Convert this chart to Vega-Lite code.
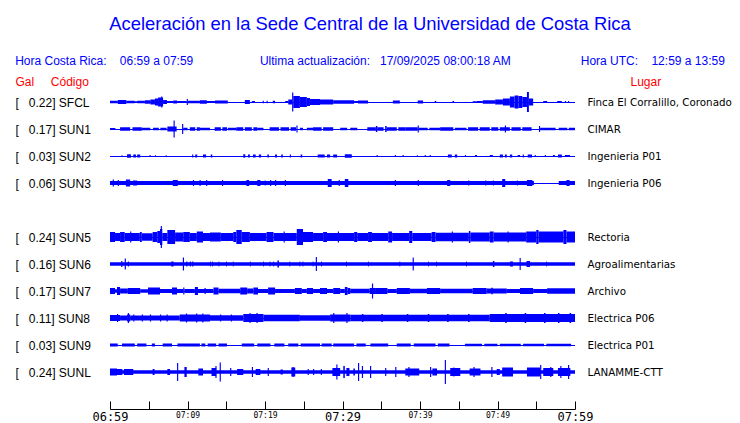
{
"$schema":"https://vega.github.io/schema/vega-lite/v6.json",
"autosize":{"type":"none"},
"width":465,"height":334,
"padding":{"left":110,"top":75,"right":165,"bottom":14},
"background":"white",
"config":{"view":{"stroke":null},
 "axisX":{"values":[0,5,10,15,20,25,30,35,40,45,50,55,60],"grid":false,"title":null,"domain":true,"domainColor":"#000000","domainWidth":1,"ticks":true,"tickSize":-8,"tickColor":"#000000","tickWidth":1,"labelPadding":10.5,"labelBaseline":"top","labelFlush":false,"labelOverlap":false,"labelColor":"#000000","labelFont":"DejaVu Sans Mono","labelFontSize":8}},
"title":{"text":"\u00a0\u00a0\u00a0\u00a0Aceleración en la Sede Central de la Universidad de Costa Rica","subtitle":"Hora Costa Rica:\u00a0\u00a0\u00a0\u00a006:59 a 07:59\u00a0\u00a0\u00a0\u00a0\u00a0\u00a0\u00a0\u00a0\u00a0\u00a0\u00a0\u00a0\u00a0\u00a0\u00a0\u00a0\u00a0\u00a0\u00a0\u00a0Ultima actualización:\u00a0\u00a0\u00a017/09/2025 08:00:18 AM\u00a0\u00a0\u00a0\u00a0\u00a0\u00a0\u00a0\u00a0\u00a0\u00a0\u00a0\u00a0\u00a0\u00a0\u00a0\u00a0\u00a0\u00a0\u00a0\u00a0\u00a0Hora UTC:\u00a0\u00a0\u00a0\u00a012:59 a 13:59","anchor":"middle","frame":"group","dx":27.5,"offset":8,"subtitlePadding":23,"font":"Liberation Sans","fontSize":18.4,"fontWeight":"normal","color":"#0000ff","subtitleFont":"Liberation Sans","subtitleFontSize":12,"subtitleColor":"#0000ff"},
"datasets":{
"estaciones":[{"s":"SFCL","gal":0.22,"lugar":"Finca El Corralillo, Coronado"},{"s":"SUN1","gal":0.17,"lugar":"CIMAR"},{"s":"SUN2","gal":0.03,"lugar":"Ingenieria P01"},{"s":"SUN3","gal":0.06,"lugar":"Ingenieria P06"},{"s":"SUN5","gal":0.24,"lugar":"Rectoria"},{"s":"SUN6","gal":0.16,"lugar":"Agroalimentarias"},{"s":"SUN7","gal":0.17,"lugar":"Archivo"},{"s":"SUN8","gal":0.11,"lugar":"Electrica P06"},{"s":"SUN9","gal":0.03,"lugar":"Electrica P01"},{"s":"SUNL","gal":0.24,"lugar":"LANAMME-CTT"}],
"trazas":[
{"s":"SFCL","t0":0,"t1":1,"a":2.5},{"s":"SFCL","t0":1,"t1":2.1,"a":4},{"s":"SFCL","t0":2.1,"t1":3.2,"a":2.5},{"s":"SFCL","t0":3.2,"t1":3.5,"a":1.5},{"s":"SFCL","t0":3.5,"t1":4.5,"a":2.5},{"s":"SFCL","t0":4.5,"t1":5.2,"a":3.5},{"s":"SFCL","t0":5.2,"t1":5.8,"a":5},{"s":"SFCL","t0":5.8,"t1":6.2,"a":7},{"s":"SFCL","t0":6.2,"t1":6.85,"a":9},{"s":"SFCL","t0":6.6,"t1":6.75,"a":11},{"s":"SFCL","t0":6.85,"t1":7.35,"a":4},{"s":"SFCL","t0":7.35,"t1":8.15,"a":2},{"s":"SFCL","t0":8.15,"t1":8.65,"a":3},{"s":"SFCL","t0":8.65,"t1":9.9,"a":2},{"s":"SFCL","t0":9.9,"t1":10.05,"a":6},{"s":"SFCL","t0":10.05,"t1":11.6,"a":2.5},{"s":"SFCL","t0":11.6,"t1":12.5,"a":3.5},{"s":"SFCL","t0":12.5,"t1":13.55,"a":2},{"s":"SFCL","t0":13.55,"t1":15.2,"a":3},{"s":"SFCL","t0":17.4,"t1":18.05,"a":4},{"s":"SFCL","t0":18.3,"t1":18.7,"a":2},{"s":"SFCL","t0":19.7,"t1":19.85,"a":2.5},{"s":"SFCL","t0":20.2,"t1":20.35,"a":2.5},{"s":"SFCL","t0":21,"t1":21.3,"a":2.5},{"s":"SFCL","t0":22.6,"t1":23,"a":2},{"s":"SFCL","t0":23,"t1":23.5,"a":5},{"s":"SFCL","t0":23.5,"t1":23.65,"a":19},{"s":"SFCL","t0":23.65,"t1":24.5,"a":12},{"s":"SFCL","t0":24.5,"t1":25.4,"a":10},{"s":"SFCL","t0":25.4,"t1":25.8,"a":8},{"s":"SFCL","t0":25.8,"t1":27.1,"a":6},{"s":"SFCL","t0":27.1,"t1":28.8,"a":5},{"s":"SFCL","t0":28.8,"t1":31.5,"a":3.5},{"s":"SFCL","t0":31.5,"t1":32,"a":2},{"s":"SFCL","t0":32,"t1":33.3,"a":3},{"s":"SFCL","t0":36.5,"t1":37.4,"a":3},{"s":"SFCL","t0":39.7,"t1":40.4,"a":3},{"s":"SFCL","t0":41.9,"t1":42.1,"a":2},{"s":"SFCL","t0":44.2,"t1":44.4,"a":2},{"s":"SFCL","t0":46.8,"t1":47.35,"a":1.5},{"s":"SFCL","t0":47.35,"t1":48.1,"a":2},{"s":"SFCL","t0":48.1,"t1":49.7,"a":3.5},{"s":"SFCL","t0":49.7,"t1":50.7,"a":5},{"s":"SFCL","t0":50.7,"t1":51.6,"a":7},{"s":"SFCL","t0":51.6,"t1":52.2,"a":11},{"s":"SFCL","t0":52.2,"t1":52.7,"a":13},{"s":"SFCL","t0":52.7,"t1":53.2,"a":12},{"s":"SFCL","t0":53.2,"t1":53.8,"a":10},{"s":"SFCL","t0":53.8,"t1":54.05,"a":20},{"s":"SFCL","t0":54.05,"t1":54.6,"a":7},{"s":"SFCL","t0":55.9,"t1":56.4,"a":2},{"s":"SFCL","t0":57.7,"t1":58.3,"a":2},{"s":"SFCL","t0":58.7,"t1":58.85,"a":2},{"s":"SFCL","t0":59.1,"t1":59.25,"a":2},
{"s":"SUN1","t0":0,"t1":0.7,"a":2},{"s":"SUN1","t0":1.3,"t1":2.6,"a":3.5},{"s":"SUN1","t0":2.9,"t1":4.1,"a":3.5},{"s":"SUN1","t0":4.1,"t1":5.2,"a":2.5},{"s":"SUN1","t0":5.55,"t1":6.3,"a":2.5},{"s":"SUN1","t0":6.5,"t1":7.3,"a":2.5},{"s":"SUN1","t0":7.4,"t1":8.6,"a":5},{"s":"SUN1","t0":8.2,"t1":8.35,"a":17},{"s":"SUN1","t0":9.3,"t1":9.45,"a":10},{"s":"SUN1","t0":9.45,"t1":10,"a":2.5},{"s":"SUN1","t0":10.3,"t1":11,"a":3.5},{"s":"SUN1","t0":11.2,"t1":11.6,"a":3.5},{"s":"SUN1","t0":11.6,"t1":12.9,"a":2.5},{"s":"SUN1","t0":13.5,"t1":14.3,"a":3.5},{"s":"SUN1","t0":14.5,"t1":15.1,"a":3.5},{"s":"SUN1","t0":15.2,"t1":16.3,"a":2.5},{"s":"SUN1","t0":16.3,"t1":17.2,"a":3.5},{"s":"SUN1","t0":17.4,"t1":18.3,"a":3.5},{"s":"SUN1","t0":18.5,"t1":19,"a":3.5},{"s":"SUN1","t0":19,"t1":19.8,"a":2.5},{"s":"SUN1","t0":20.6,"t1":21.8,"a":3.5},{"s":"SUN1","t0":22,"t1":23.1,"a":3.5},{"s":"SUN1","t0":23.3,"t1":24,"a":3.5},{"s":"SUN1","t0":24.05,"t1":24.2,"a":7},{"s":"SUN1","t0":24.5,"t1":24.9,"a":2.5},{"s":"SUN1","t0":25.4,"t1":26.2,"a":2.5},{"s":"SUN1","t0":26.2,"t1":27.3,"a":3.5},{"s":"SUN1","t0":27.5,"t1":28.8,"a":3.5},{"s":"SUN1","t0":29.7,"t1":30.6,"a":2.5},{"s":"SUN1","t0":31,"t1":31.9,"a":2.5},{"s":"SUN1","t0":33.2,"t1":34.3,"a":3.5},{"s":"SUN1","t0":34.3,"t1":34.5,"a":6},{"s":"SUN1","t0":34.5,"t1":35.3,"a":3.5},{"s":"SUN1","t0":35.5,"t1":35.7,"a":6},{"s":"SUN1","t0":35.7,"t1":37,"a":3.5},{"s":"SUN1","t0":37.2,"t1":38.1,"a":3.5},{"s":"SUN1","t0":38.1,"t1":39.7,"a":3.5},{"s":"SUN1","t0":39.7,"t1":39.85,"a":7},{"s":"SUN1","t0":39.85,"t1":41,"a":2.5},{"s":"SUN1","t0":41.2,"t1":42.6,"a":2.5},{"s":"SUN1","t0":42.6,"t1":44.3,"a":3.5},{"s":"SUN1","t0":44.5,"t1":46,"a":2.5},{"s":"SUN1","t0":46.2,"t1":47.5,"a":3.5},{"s":"SUN1","t0":47.7,"t1":49,"a":3.5},{"s":"SUN1","t0":49.2,"t1":50.1,"a":3.5},{"s":"SUN1","t0":50.3,"t1":51.6,"a":3.5},{"s":"SUN1","t0":50.95,"t1":51.1,"a":7},{"s":"SUN1","t0":51.8,"t1":53,"a":3.5},{"s":"SUN1","t0":53.2,"t1":54.4,"a":3.5},{"s":"SUN1","t0":55.35,"t1":55.5,"a":6},{"s":"SUN1","t0":55.5,"t1":57.5,"a":2.5},{"s":"SUN1","t0":57.9,"t1":59,"a":2.5},{"s":"SUN1","t0":59.2,"t1":60,"a":2.5},
{"s":"SUN2","t0":1.5,"t1":1.6,"a":2},{"s":"SUN2","t0":2.2,"t1":2.7,"a":3.5},{"s":"SUN2","t0":3,"t1":3.35,"a":3},{"s":"SUN2","t0":3.5,"t1":3.9,"a":3},{"s":"SUN2","t0":5.1,"t1":5.25,"a":2},{"s":"SUN2","t0":5.8,"t1":5.9,"a":2},{"s":"SUN2","t0":7.2,"t1":7.3,"a":2},{"s":"SUN2","t0":10.6,"t1":10.75,"a":3},{"s":"SUN2","t0":11,"t1":11.25,"a":3},{"s":"SUN2","t0":12,"t1":12.4,"a":3},{"s":"SUN2","t0":13,"t1":13.2,"a":3},{"s":"SUN2","t0":17.2,"t1":17.45,"a":3.5},{"s":"SUN2","t0":17.8,"t1":18.05,"a":3},{"s":"SUN2","t0":18.45,"t1":18.8,"a":3},{"s":"SUN2","t0":19.2,"t1":19.5,"a":3},{"s":"SUN2","t0":20.3,"t1":20.5,"a":3},{"s":"SUN2","t0":21.3,"t1":21.55,"a":3},{"s":"SUN2","t0":22.1,"t1":22.3,"a":3},{"s":"SUN2","t0":23.2,"t1":23.35,"a":3},{"s":"SUN2","t0":24.6,"t1":24.8,"a":3},{"s":"SUN2","t0":26.8,"t1":27.7,"a":3},{"s":"SUN2","t0":28,"t1":28.4,"a":3},{"s":"SUN2","t0":28.8,"t1":29.3,"a":3},{"s":"SUN2","t0":30.3,"t1":31.2,"a":3.5},{"s":"SUN2","t0":34.4,"t1":34.55,"a":2},{"s":"SUN2","t0":36.75,"t1":36.9,"a":2},{"s":"SUN2","t0":37.75,"t1":37.9,"a":2},{"s":"SUN2","t0":39.6,"t1":39.7,"a":2},{"s":"SUN2","t0":40.6,"t1":40.75,"a":2},{"s":"SUN2","t0":41.25,"t1":41.4,"a":2},{"s":"SUN2","t0":43.6,"t1":44.1,"a":3},{"s":"SUN2","t0":44.5,"t1":44.8,"a":3},{"s":"SUN2","t0":45.8,"t1":45.95,"a":2},{"s":"SUN2","t0":47.1,"t1":47.35,"a":2},{"s":"SUN2","t0":49,"t1":49.4,"a":2},{"s":"SUN2","t0":50.3,"t1":50.7,"a":3},{"s":"SUN2","t0":50.95,"t1":51.2,"a":3},{"s":"SUN2","t0":51.6,"t1":51.9,"a":3},{"s":"SUN2","t0":52.6,"t1":52.9,"a":2},{"s":"SUN2","t0":53.25,"t1":53.4,"a":3},{"s":"SUN2","t0":53.9,"t1":54.45,"a":3},{"s":"SUN2","t0":54.8,"t1":54.95,"a":2},{"s":"SUN2","t0":56.1,"t1":56.25,"a":2},{"s":"SUN2","t0":57.15,"t1":57.4,"a":2},{"s":"SUN2","t0":57.8,"t1":58.3,"a":3},{"s":"SUN2","t0":58.7,"t1":59.35,"a":2},
{"s":"SUN3","t0":0,"t1":54.7,"a":4},{"s":"SUN3","t0":57.9,"t1":60,"a":4},{"s":"SUN3","t0":0.35,"t1":0.5,"a":7},{"s":"SUN3","t0":1,"t1":1.15,"a":6},{"s":"SUN3","t0":2.05,"t1":2.6,"a":7},{"s":"SUN3","t0":2.95,"t1":3.5,"a":5},{"s":"SUN3","t0":8.1,"t1":8.75,"a":6},{"s":"SUN3","t0":10.7,"t1":10.85,"a":6},{"s":"SUN3","t0":11.55,"t1":11.7,"a":6},{"s":"SUN3","t0":12.4,"t1":12.55,"a":6},{"s":"SUN3","t0":14.45,"t1":14.6,"a":6},{"s":"SUN3","t0":17.6,"t1":17.95,"a":6},{"s":"SUN3","t0":19,"t1":19.4,"a":6},{"s":"SUN3","t0":19.95,"t1":20.1,"a":5},{"s":"SUN3","t0":20.65,"t1":20.8,"a":6},{"s":"SUN3","t0":21.3,"t1":21.45,"a":6},{"s":"SUN3","t0":22.55,"t1":22.7,"a":6},{"s":"SUN3","t0":28.1,"t1":28.6,"a":8},{"s":"SUN3","t0":29.5,"t1":29.65,"a":6},{"s":"SUN3","t0":30.3,"t1":30.75,"a":8},{"s":"SUN3","t0":36.75,"t1":36.9,"a":6},{"s":"SUN3","t0":39.7,"t1":39.85,"a":6},{"s":"SUN3","t0":43.5,"t1":43.9,"a":6},{"s":"SUN3","t0":46.2,"t1":46.35,"a":5},{"s":"SUN3","t0":48.4,"t1":48.55,"a":5},{"s":"SUN3","t0":49.4,"t1":49.55,"a":5},{"s":"SUN3","t0":50.6,"t1":51,"a":8},{"s":"SUN3","t0":52.5,"t1":52.65,"a":5},{"s":"SUN3","t0":53.8,"t1":54.5,"a":6},{"s":"SUN3","t0":58.9,"t1":59.3,"a":6},
{"s":"SUN5","t0":0,"t1":0.65,"a":10},{"s":"SUN5","t0":0.65,"t1":1.3,"a":8},{"s":"SUN5","t0":1.3,"t1":1.9,"a":10},{"s":"SUN5","t0":1.9,"t1":3.85,"a":8},{"s":"SUN5","t0":2.6,"t1":2.75,"a":11},{"s":"SUN5","t0":3.85,"t1":4.1,"a":10},{"s":"SUN5","t0":4.1,"t1":5.5,"a":7.5},{"s":"SUN5","t0":5.5,"t1":6.1,"a":10},{"s":"SUN5","t0":6.1,"t1":6.45,"a":12},{"s":"SUN5","t0":6.45,"t1":6.75,"a":16},{"s":"SUN5","t0":6.55,"t1":6.7,"a":22},{"s":"SUN5","t0":6.75,"t1":7.4,"a":8},{"s":"SUN5","t0":7.4,"t1":8.4,"a":14},{"s":"SUN5","t0":8.4,"t1":9.45,"a":9},{"s":"SUN5","t0":9.45,"t1":10.3,"a":10},{"s":"SUN5","t0":10.3,"t1":11.2,"a":8},{"s":"SUN5","t0":11.2,"t1":12,"a":11},{"s":"SUN5","t0":12,"t1":12.9,"a":8},{"s":"SUN5","t0":12.9,"t1":14.3,"a":9},{"s":"SUN5","t0":14.3,"t1":15.9,"a":8},{"s":"SUN5","t0":15.9,"t1":16.3,"a":10},{"s":"SUN5","t0":16.3,"t1":17,"a":14},{"s":"SUN5","t0":17,"t1":18.05,"a":10},{"s":"SUN5","t0":18.05,"t1":20.2,"a":8},{"s":"SUN5","t0":20.2,"t1":21.1,"a":10},{"s":"SUN5","t0":21.1,"t1":24.1,"a":8},{"s":"SUN5","t0":22.4,"t1":22.55,"a":11},{"s":"SUN5","t0":24.1,"t1":24.9,"a":16},{"s":"SUN5","t0":24.9,"t1":26.2,"a":10},{"s":"SUN5","t0":26.2,"t1":27.5,"a":8},{"s":"SUN5","t0":27.5,"t1":28,"a":10},{"s":"SUN5","t0":28,"t1":31.5,"a":8},{"s":"SUN5","t0":29.4,"t1":29.55,"a":11},{"s":"SUN5","t0":31.5,"t1":31.9,"a":10},{"s":"SUN5","t0":31.9,"t1":33.3,"a":8},{"s":"SUN5","t0":33.3,"t1":33.8,"a":10},{"s":"SUN5","t0":33.8,"t1":35.9,"a":8},{"s":"SUN5","t0":35.9,"t1":36.4,"a":11},{"s":"SUN5","t0":36.4,"t1":38.6,"a":8},{"s":"SUN5","t0":38.6,"t1":39,"a":12},{"s":"SUN5","t0":39,"t1":41.5,"a":8},{"s":"SUN5","t0":41.5,"t1":42,"a":10},{"s":"SUN5","t0":42,"t1":46.3,"a":8.5},{"s":"SUN5","t0":44.1,"t1":44.25,"a":11},{"s":"SUN5","t0":46.3,"t1":46.5,"a":12},{"s":"SUN5","t0":46.5,"t1":49,"a":9},{"s":"SUN5","t0":49,"t1":49.5,"a":11},{"s":"SUN5","t0":49.5,"t1":53.7,"a":9},{"s":"SUN5","t0":51.3,"t1":51.45,"a":11},{"s":"SUN5","t0":53.7,"t1":55,"a":11},{"s":"SUN5","t0":55,"t1":55.3,"a":14},{"s":"SUN5","t0":55.3,"t1":58.5,"a":11},{"s":"SUN5","t0":58.5,"t1":58.9,"a":14},{"s":"SUN5","t0":58.9,"t1":60,"a":11},
{"s":"SUN6","t0":0,"t1":60,"a":3.5},{"s":"SUN6","t0":1.45,"t1":1.6,"a":6},{"s":"SUN6","t0":1.9,"t1":2.05,"a":11},{"s":"SUN6","t0":2.3,"t1":2.45,"a":5},{"s":"SUN6","t0":7.9,"t1":8.2,"a":5},{"s":"SUN6","t0":9.4,"t1":9.55,"a":13},{"s":"SUN6","t0":9.85,"t1":10,"a":5},{"s":"SUN6","t0":10.3,"t1":10.45,"a":5},{"s":"SUN6","t0":10.6,"t1":10.75,"a":5},{"s":"SUN6","t0":12.9,"t1":13,"a":5},{"s":"SUN6","t0":13.2,"t1":13.3,"a":5},{"s":"SUN6","t0":14,"t1":14.1,"a":5},{"s":"SUN6","t0":15,"t1":15.1,"a":5},{"s":"SUN6","t0":15.85,"t1":15.95,"a":5},{"s":"SUN6","t0":18.05,"t1":18.15,"a":5},{"s":"SUN6","t0":19.75,"t1":19.85,"a":5},{"s":"SUN6","t0":20.6,"t1":20.7,"a":5},{"s":"SUN6","t0":21.05,"t1":21.15,"a":5},{"s":"SUN6","t0":21.6,"t1":21.8,"a":7},{"s":"SUN6","t0":23.15,"t1":23.25,"a":5},{"s":"SUN6","t0":24.45,"t1":24.55,"a":5},{"s":"SUN6","t0":24.85,"t1":24.95,"a":5},{"s":"SUN6","t0":26.15,"t1":26.25,"a":5},{"s":"SUN6","t0":26.55,"t1":26.7,"a":14},{"s":"SUN6","t0":27.25,"t1":27.35,"a":5},{"s":"SUN6","t0":30.45,"t1":30.55,"a":5},{"s":"SUN6","t0":33.3,"t1":33.4,"a":5},{"s":"SUN6","t0":37.35,"t1":37.45,"a":5},{"s":"SUN6","t0":39.05,"t1":39.2,"a":13},{"s":"SUN6","t0":41.05,"t1":41.15,"a":5},{"s":"SUN6","t0":42.1,"t1":42.2,"a":5},{"s":"SUN6","t0":45.95,"t1":46.05,"a":5},{"s":"SUN6","t0":49.4,"t1":49.6,"a":6},{"s":"SUN6","t0":51.6,"t1":52,"a":5},{"s":"SUN6","t0":52.85,"t1":53,"a":12},{"s":"SUN6","t0":53.75,"t1":54.2,"a":6},{"s":"SUN6","t0":56.3,"t1":56.4,"a":5},
{"s":"SUN7","t0":0,"t1":0.65,"a":6},{"s":"SUN7","t0":0.65,"t1":0.9,"a":3.5},{"s":"SUN7","t0":0.9,"t1":1.3,"a":8},{"s":"SUN7","t0":1.3,"t1":2.3,"a":5},{"s":"SUN7","t0":2.3,"t1":3.9,"a":6},{"s":"SUN7","t0":3.9,"t1":4.9,"a":3.5},{"s":"SUN7","t0":4.9,"t1":6.45,"a":7},{"s":"SUN7","t0":6.45,"t1":8,"a":4},{"s":"SUN7","t0":8,"t1":8.65,"a":7},{"s":"SUN7","t0":8.65,"t1":9.45,"a":4},{"s":"SUN7","t0":9.45,"t1":9.6,"a":7},{"s":"SUN7","t0":9.6,"t1":10.95,"a":4},{"s":"SUN7","t0":10.95,"t1":11.35,"a":8},{"s":"SUN7","t0":11.35,"t1":13.35,"a":4},{"s":"SUN7","t0":12.2,"t1":12.35,"a":6},{"s":"SUN7","t0":13.35,"t1":14,"a":7},{"s":"SUN7","t0":14,"t1":16.8,"a":4.5},{"s":"SUN7","t0":16.8,"t1":17.7,"a":7},{"s":"SUN7","t0":17.7,"t1":18.5,"a":5},{"s":"SUN7","t0":18.5,"t1":19.1,"a":7},{"s":"SUN7","t0":19.1,"t1":20.4,"a":4},{"s":"SUN7","t0":20.4,"t1":21.3,"a":7},{"s":"SUN7","t0":21.3,"t1":23.85,"a":4},{"s":"SUN7","t0":23.85,"t1":24.75,"a":6},{"s":"SUN7","t0":24.75,"t1":25.4,"a":4},{"s":"SUN7","t0":25.4,"t1":26.2,"a":6},{"s":"SUN7","t0":26.2,"t1":27.1,"a":4},{"s":"SUN7","t0":27.1,"t1":28,"a":6},{"s":"SUN7","t0":28,"t1":28.8,"a":4},{"s":"SUN7","t0":28.8,"t1":29.7,"a":6},{"s":"SUN7","t0":29.7,"t1":30.3,"a":4},{"s":"SUN7","t0":30.3,"t1":30.65,"a":8},{"s":"SUN7","t0":30.65,"t1":31,"a":6},{"s":"SUN7","t0":31,"t1":33.5,"a":4.5},{"s":"SUN7","t0":33.5,"t1":34.2,"a":6},{"s":"SUN7","t0":33.8,"t1":33.95,"a":15},{"s":"SUN7","t0":34.2,"t1":35.8,"a":6},{"s":"SUN7","t0":35.8,"t1":37,"a":4},{"s":"SUN7","t0":37,"t1":38.7,"a":6},{"s":"SUN7","t0":38.7,"t1":40.9,"a":4.5},{"s":"SUN7","t0":40.9,"t1":42.6,"a":6},{"s":"SUN7","t0":42.6,"t1":46.8,"a":4.5},{"s":"SUN7","t0":46.8,"t1":48.6,"a":6},{"s":"SUN7","t0":48.6,"t1":51.2,"a":5},{"s":"SUN7","t0":49.2,"t1":49.4,"a":6.5},{"s":"SUN7","t0":51.2,"t1":52.9,"a":4},{"s":"SUN7","t0":52.9,"t1":54.6,"a":6},{"s":"SUN7","t0":54.6,"t1":56.4,"a":4},{"s":"SUN7","t0":56.4,"t1":60,"a":5.5},
{"s":"SUN8","t0":0,"t1":1.3,"a":6},{"s":"SUN8","t0":0.9,"t1":1.05,"a":8},{"s":"SUN8","t0":1.3,"t1":2.2,"a":5},{"s":"SUN8","t0":2.2,"t1":2.6,"a":7},{"s":"SUN8","t0":2.3,"t1":2.45,"a":10},{"s":"SUN8","t0":2.6,"t1":9,"a":5},{"s":"SUN8","t0":3,"t1":3.15,"a":7},{"s":"SUN8","t0":4.1,"t1":4.25,"a":7},{"s":"SUN8","t0":5.15,"t1":5.3,"a":7},{"s":"SUN8","t0":6.45,"t1":6.6,"a":7},{"s":"SUN8","t0":7.3,"t1":7.45,"a":7},{"s":"SUN8","t0":9,"t1":12.9,"a":7},{"s":"SUN8","t0":9.8,"t1":9.95,"a":9},{"s":"SUN8","t0":11.1,"t1":11.25,"a":9},{"s":"SUN8","t0":11.9,"t1":12.05,"a":9},{"s":"SUN8","t0":12.9,"t1":17.2,"a":5.5},{"s":"SUN8","t0":14.2,"t1":14.35,"a":7},{"s":"SUN8","t0":15.6,"t1":15.75,"a":7},{"s":"SUN8","t0":17.2,"t1":19.8,"a":8},{"s":"SUN8","t0":18,"t1":18.15,"a":10},{"s":"SUN8","t0":18.9,"t1":19.05,"a":10},{"s":"SUN8","t0":19.8,"t1":24.5,"a":6.5},{"s":"SUN8","t0":24.5,"t1":28.4,"a":5.5},{"s":"SUN8","t0":28.4,"t1":31,"a":7},{"s":"SUN8","t0":28.8,"t1":28.95,"a":10},{"s":"SUN8","t0":30.5,"t1":30.65,"a":10},{"s":"SUN8","t0":31,"t1":49,"a":6.5},{"s":"SUN8","t0":32.5,"t1":32.7,"a":8},{"s":"SUN8","t0":35,"t1":35.2,"a":8},{"s":"SUN8","t0":38.3,"t1":38.5,"a":8},{"s":"SUN8","t0":41,"t1":41.2,"a":8},{"s":"SUN8","t0":43.5,"t1":43.7,"a":8},{"s":"SUN8","t0":46.2,"t1":46.4,"a":8},{"s":"SUN8","t0":49,"t1":60,"a":8},{"s":"SUN8","t0":51,"t1":51.2,"a":10},{"s":"SUN8","t0":53.5,"t1":53.7,"a":10},{"s":"SUN8","t0":56,"t1":56.2,"a":10},{"s":"SUN8","t0":57.8,"t1":58,"a":10},{"s":"SUN8","t0":59.3,"t1":59.5,"a":10},
{"s":"SUN9","t0":0,"t1":1,"a":3},{"s":"SUN9","t0":1.55,"t1":3.2,"a":3},{"s":"SUN9","t0":3.5,"t1":4.7,"a":3},{"s":"SUN9","t0":5.4,"t1":5.8,"a":3},{"s":"SUN9","t0":6.8,"t1":8,"a":3},{"s":"SUN9","t0":8.7,"t1":11.6,"a":3},{"s":"SUN9","t0":11.8,"t1":12.3,"a":3},{"s":"SUN9","t0":12.6,"t1":13.7,"a":3},{"s":"SUN9","t0":14,"t1":15.1,"a":3},{"s":"SUN9","t0":17,"t1":18.6,"a":3},{"s":"SUN9","t0":19,"t1":20.7,"a":3},{"s":"SUN9","t0":21.2,"t1":22.5,"a":3},{"s":"SUN9","t0":23,"t1":24.3,"a":3},{"s":"SUN9","t0":24.6,"t1":27.1,"a":3},{"s":"SUN9","t0":27.3,"t1":28.6,"a":3},{"s":"SUN9","t0":28.8,"t1":31.5,"a":3},{"s":"SUN9","t0":31.8,"t1":33,"a":3},{"s":"SUN9","t0":33.6,"t1":35.9,"a":3},{"s":"SUN9","t0":37,"t1":38.8,"a":3},{"s":"SUN9","t0":39.2,"t1":42,"a":3},{"s":"SUN9","t0":42.3,"t1":43.8,"a":3},{"s":"SUN9","t0":45.8,"t1":48,"a":2.5},{"s":"SUN9","t0":48.3,"t1":50,"a":2.5},{"s":"SUN9","t0":50.3,"t1":53,"a":2.5},{"s":"SUN9","t0":53.3,"t1":56,"a":2.5},{"s":"SUN9","t0":56.3,"t1":59.5,"a":2.5},
{"s":"SUNL","t0":0,"t1":60,"a":3.5},{"s":"SUNL","t0":0,"t1":0.9,"a":7},{"s":"SUNL","t0":0.9,"t1":1.6,"a":6},{"s":"SUNL","t0":1.8,"t1":3,"a":6},{"s":"SUNL","t0":5.5,"t1":5.75,"a":6},{"s":"SUNL","t0":7.4,"t1":7.75,"a":6},{"s":"SUNL","t0":8.65,"t1":8.8,"a":18},{"s":"SUNL","t0":9.6,"t1":9.9,"a":10},{"s":"SUNL","t0":11.4,"t1":12,"a":7},{"s":"SUNL","t0":13.1,"t1":13.7,"a":8},{"s":"SUNL","t0":13.6,"t1":13.75,"a":12},{"s":"SUNL","t0":14.15,"t1":14.3,"a":19},{"s":"SUNL","t0":15.5,"t1":15.65,"a":8},{"s":"SUNL","t0":16.4,"t1":17.2,"a":6},{"s":"SUNL","t0":18.3,"t1":18.45,"a":10},{"s":"SUNL","t0":18.8,"t1":19.4,"a":6},{"s":"SUNL","t0":20.35,"t1":20.5,"a":8},{"s":"SUNL","t0":22,"t1":22.3,"a":5},{"s":"SUNL","t0":23.4,"t1":23.9,"a":9},{"s":"SUNL","t0":23.55,"t1":23.7,"a":10},{"s":"SUNL","t0":25.5,"t1":25.65,"a":6},{"s":"SUNL","t0":26.2,"t1":26.35,"a":6},{"s":"SUNL","t0":27.2,"t1":27.35,"a":6},{"s":"SUNL","t0":28.7,"t1":29.7,"a":8},{"s":"SUNL","t0":29.2,"t1":29.35,"a":15},{"s":"SUNL","t0":30.1,"t1":30.3,"a":12},{"s":"SUNL","t0":30.5,"t1":30.9,"a":8},{"s":"SUNL","t0":31.4,"t1":31.6,"a":7},{"s":"SUNL","t0":32,"t1":32.15,"a":18},{"s":"SUNL","t0":32.5,"t1":32.65,"a":12},{"s":"SUNL","t0":33.55,"t1":33.7,"a":12},{"s":"SUNL","t0":35.5,"t1":35.65,"a":8},{"s":"SUNL","t0":36.8,"t1":36.95,"a":10},{"s":"SUNL","t0":38.1,"t1":39.9,"a":7},{"s":"SUNL","t0":38.5,"t1":38.65,"a":10},{"s":"SUNL","t0":41.3,"t1":41.45,"a":10},{"s":"SUNL","t0":41.6,"t1":42.2,"a":7},{"s":"SUNL","t0":43.2,"t1":43.35,"a":24},{"s":"SUNL","t0":43.9,"t1":45.2,"a":8},{"s":"SUNL","t0":44.3,"t1":44.45,"a":9},{"s":"SUNL","t0":46.4,"t1":47.8,"a":7},{"s":"SUNL","t0":46.9,"t1":47.05,"a":10},{"s":"SUNL","t0":49.2,"t1":49.35,"a":10},{"s":"SUNL","t0":49.9,"t1":50.3,"a":6},{"s":"SUNL","t0":50.6,"t1":52,"a":9},{"s":"SUNL","t0":53.8,"t1":55.5,"a":9},{"s":"SUNL","t0":55.5,"t1":55.65,"a":14},{"s":"SUNL","t0":55.9,"t1":57.2,"a":8},{"s":"SUNL","t0":56.8,"t1":56.95,"a":10},{"s":"SUNL","t0":57.8,"t1":59.4,"a":8},{"s":"SUNL","t0":58.1,"t1":58.25,"a":12},{"s":"SUNL","t0":59.1,"t1":59.25,"a":14}
]},
"layer":[
{"data":{"name":"estaciones"},
 "mark":{"type":"rule","color":"#0000ff","strokeWidth":1,"yOffset":0.5},
 "encoding":{
  "x":{"datum":0,"type":"quantitative","scale":{"domain":[0,60],"nice":false,"zero":false},
   "axis":{"labelFontSize":{"condition":{"test":"datum.value % 30 == 0","value":12},"value":8},
    "labelExpr":"datum.value % 10 == 0 ? ['06:59','07:09','07:19','07:29','07:39','07:49','07:59'][datum.value / 10] : ''"}},
  "x2":{"datum":60},
  "y":{"field":"s","type":"nominal","scale":{"type":"point","padding":0,"domain":["SFCL","SUN1","SUN2","SUN3","-","SUN5","SUN6","SUN7","SUN8","SUN9","SUNL"],"range":[27,297]},
   "axis":{"orient":"right","domain":false,"ticks":false,"tickSize":0,"labelPadding":12,"labelAlign":"left","labelFont":"DejaVu Sans","labelFontSize":10.3,"labelColor":"#000000",
    "labelExpr":"['Finca El Corralillo, Coronado','CIMAR','Ingenieria P01','Ingenieria P06','','Rectoria','Agroalimentarias','Archivo','Electrica P06','Electrica P01','LANAMME-CTT'][indexof(['SFCL','SUN1','SUN2','SUN3','-','SUN5','SUN6','SUN7','SUN8','SUN9','SUNL'], datum.value)]",
    "title":"Lugar","titleAngle":0,"titleAlign":"left","titleBaseline":"alphabetic","titleX":55,"titleY":10,"titleFont":"Liberation Sans","titleFontSize":12,"titleFontWeight":"normal","titleColor":"#ff0000"}}
 }},
{"data":{"name":"trazas"},
 "mark":{"type":"bar","color":"#0000ff"},
 "encoding":{
  "x":{"field":"t0","type":"quantitative","scale":{"domain":[0,60],"nice":false,"zero":false},
   "axis":{"labelFontSize":{"condition":{"test":"datum.value % 30 == 0","value":12},"value":8},
    "labelExpr":"datum.value % 10 == 0 ? ['06:59','07:09','07:19','07:29','07:39','07:49','07:59'][datum.value / 10] : ''"}},
  "x2":{"field":"t1"},
  "y":{"field":"s","type":"nominal","scale":{"type":"point","padding":0,"domain":["SFCL","SUN1","SUN2","SUN3","-","SUN5","SUN6","SUN7","SUN8","SUN9","SUNL"],"range":[27,297]},
   "axis":{"orient":"left","domain":false,"ticks":false,"tickSize":0,"labelPadding":95,"labelAlign":"left","labelFont":"Liberation Sans","labelFontSize":12,"labelColor":"#000000",
    "labelExpr":"['[\u00a0\u00a0\u00a00.22] SFCL','[\u00a0\u00a0\u00a00.17] SUN1','[\u00a0\u00a0\u00a00.03] SUN2','[\u00a0\u00a0\u00a00.06] SUN3','','[\u00a0\u00a0\u00a00.24] SUN5','[\u00a0\u00a0\u00a00.16] SUN6','[\u00a0\u00a0\u00a00.17] SUN7','[\u00a0\u00a0\u00a00.11] SUN8','[\u00a0\u00a0\u00a00.03] SUN9','[\u00a0\u00a0\u00a00.24] SUNL'][indexof(['SFCL','SUN1','SUN2','SUN3','-','SUN5','SUN6','SUN7','SUN8','SUN9','SUNL'], datum.value)]",
    "title":"Gal\u00a0\u00a0\u00a0\u00a0\u00a0Código","titleAngle":0,"titleAlign":"left","titleBaseline":"alphabetic","titleX":-95,"titleY":10,"titleFont":"Liberation Sans","titleFontSize":12,"titleFontWeight":"normal","titleColor":"#ff0000"}},
  "size":{"field":"a","type":"quantitative","scale":{"type":"linear","domain":[0,30],"range":[0,30]},"legend":null}
 }}
],
"resolve":{"axis":{"y":"independent"}}
}
